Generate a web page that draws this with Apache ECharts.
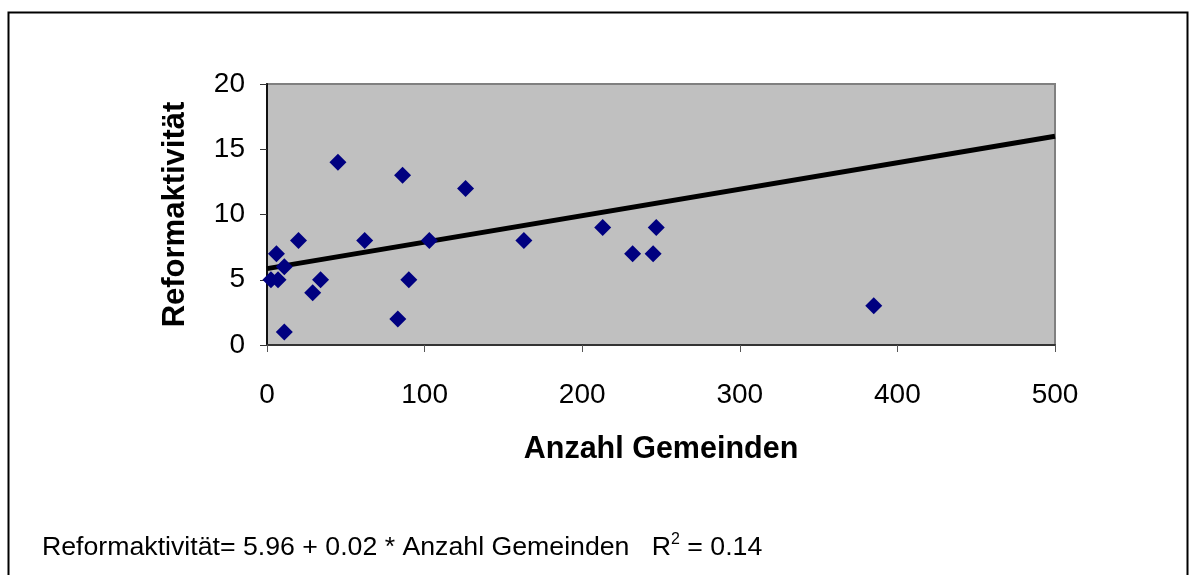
<!DOCTYPE html>
<html><head><meta charset="utf-8">
<script src="https://cdn.jsdelivr.net/npm/echarts@6/dist/echarts.min.js"></script>
<style>html,body{margin:0;padding:0;background:#fff}#c{width:1197px;height:575px}</style>
</head><body><div id="c"></div>
<script>
const gemeinden = [6, 2.5, 7, 11, 11, 20, 29, 34, 45, 62, 83, 86, 90, 103, 126, 163, 213, 232, 245, 247, 385];
const reform    = [7, 5,   5, 6,  1,  8,  4,  5,  14, 8,  2,  13, 5,  8,   12,  8,   9,   7,   7,   9,   3];
const trendX = [0, 500];
const trendY = [5.85, 16.0];
const xTicks = [0, 100, 200, 300, 400, 500];
const yTicks = [0, 5, 10, 15, 20];
const xName = 'Anzahl Gemeinden';
const yName = 'Reformaktivität';

const chart = echarts.init(document.getElementById('c'), null, {renderer: 'canvas'});
const F = 'Liberation Sans, Arial, sans-serif';
chart.setOption({
  animation: false,
  backgroundColor: '#fff',
  grid: {left: 267, top: 84, width: 788, height: 261, show: true, backgroundColor: '#c0c0c0', borderColor: '#808080', borderWidth: 2},
  xAxis: {
    type: 'value', min: xTicks[0], max: xTicks[xTicks.length-1], interval: 100,
    name: xName, nameLocation: 'middle', nameGap: 89,
    nameTextStyle: {fontFamily: F, fontSize: 30.5, fontWeight: 'bold', color: '#000'},
    axisLine: {show: true, lineStyle: {color: '#333', width: 2}},
    axisTick: {show: true, length: 7, lineStyle: {color: '#555'}},
    axisLabel: {fontFamily: F, fontSize: 28, color: '#000', margin: 36},
    splitLine: {show: false}
  },
  yAxis: {
    type: 'value', min: yTicks[0], max: yTicks[yTicks.length-1], interval: 5,
    name: yName, nameLocation: 'middle', nameGap: 76, nameRotate: 90,
    nameTextStyle: {fontFamily: F, fontSize: 31, fontWeight: 'bold', color: '#000'},
    axisLine: {show: true, lineStyle: {color: '#111', width: 2}},
    axisTick: {show: true, length: 7, lineStyle: {color: '#333'}},
    axisLabel: {fontFamily: F, fontSize: 28, color: '#000', margin: 22},
    splitLine: {show: false}
  },
  series: [
    {type: 'line', data: trendX.map((x, i) => [x, trendY[i]]), symbol: 'none',
     lineStyle: {color: '#000', width: 5}, z: 2},
    {type: 'scatter', data: gemeinden.map((x, i) => [x, reform[i]]), symbol: 'diamond', symbolSize: 17,
     itemStyle: {color: '#000080', opacity: 1}, z: 3}
  ],
  graphic: [
    {type: 'rect', shape: {x: 8.5, y: 12.5, width: 1179, height: 600}, style: {fill: null, stroke: '#000', lineWidth: 2}, silent: true},
    {type: 'text', left: 42, top: 532, style: {
      text: '{a|Reformaktivität= 5.96 + 0.02 * Anzahl Gemeinden   R}{s|2}{a| = 0.14}',
      rich: {a: {fontFamily: F, fontSize: 26.7, color: '#000', verticalAlign: 'bottom'},
             s: {fontFamily: F, fontSize: 16, color: '#000', verticalAlign: 'top', padding: [0,0,13,0]}}
    }}
  ]
});
</script></body></html>
